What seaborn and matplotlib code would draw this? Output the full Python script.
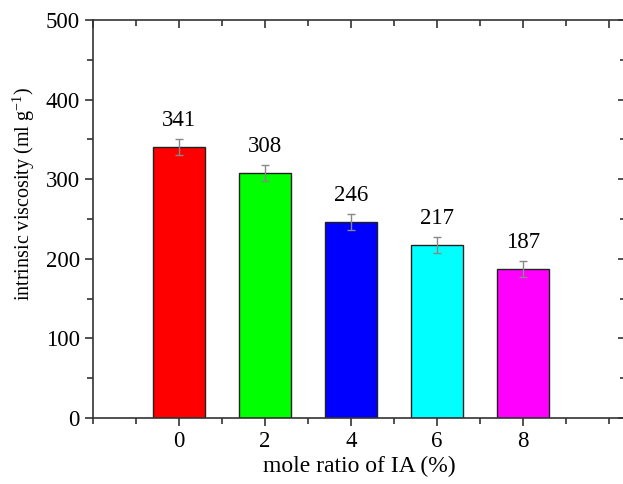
import numpy as np
import pandas as pd
import seaborn as sns
import matplotlib.pyplot as plt
from matplotlib.ticker import MultipleLocator

# data
mole_ratio = [0, 2, 4, 6, 8]
viscosity = [341, 308, 246, 217, 187]
errors = [10, 10, 10, 10, 10]
bar_colors = ['#ff0000', '#00ff00', '#0000ff', '#00ffff', '#ff00ff']

df = pd.DataFrame({'ratio': mole_ratio, 'visc': viscosity})

sns.set_style('ticks')
plt.rcParams['font.family'] = ['Liberation Serif', 'DejaVu Serif']
plt.rcParams['mathtext.fontset'] = 'custom'
plt.rcParams['mathtext.rm'] = 'Liberation Serif'
plt.rcParams['mathtext.it'] = 'Liberation Serif:italic'
plt.rcParams['text.color'] = 'black'
plt.rcParams['axes.labelcolor'] = 'black'
plt.rcParams['xtick.labelcolor'] = 'black'
plt.rcParams['ytick.labelcolor'] = 'black'

fig = plt.figure(figsize=(6.23, 4.84), dpi=100)
ax = fig.add_axes([93 / 623, 66 / 484, 533 / 623, 398 / 484])

sns.barplot(data=df, x='ratio', y='visc', hue='ratio', palette=bar_colors,
            native_scale=True, width=0.6, saturation=1, edgecolor='#222222',
            linewidth=1, legend=False, errorbar=None, ax=ax)
ax.errorbar(mole_ratio, viscosity, yerr=errors, fmt='none', ecolor='#888888',
            elinewidth=1, capsize=3, capthick=1)

for x, v, e in zip(mole_ratio, viscosity, errors):
    ax.text(x, v + e + 10, str(v), ha='center', va='bottom', fontsize=16.5)

ax.set_xlim(-2, 10.4)
ax.set_ylim(0, 500)
ax.xaxis.set_minor_locator(MultipleLocator(1))
ax.yaxis.set_major_locator(MultipleLocator(100))
ax.yaxis.set_minor_locator(MultipleLocator(50))
ax.set_xticks([0, 2, 4, 6, 8])
ax.set_xticklabels(['0', '2', '4', '6', '8'])

for s in ax.spines.values():
    s.set_color('#333333')
    s.set_linewidth(1.2)

ax.tick_params(which='both', direction='out', bottom=True, left=True,
               top=False, right=False, labelsize=16.5, color='#333333', width=1.2)
ax.tick_params(which='major', length=6)
ax.tick_params(which='minor', length=4)

# inward ticks on top and right spines
ax_top = ax.secondary_xaxis('top')
ax_top.xaxis.set_major_locator(MultipleLocator(2))
ax_top.xaxis.set_minor_locator(MultipleLocator(1))
ax_top.tick_params(which='both', direction='in', labeltop=False, color='#333333', width=1.2)
ax_top.tick_params(which='major', length=6)
ax_top.tick_params(which='minor', length=4)
ax_top.spines['top'].set_visible(False)
ax_right = ax.secondary_yaxis('right')
ax_right.yaxis.set_major_locator(MultipleLocator(100))
ax_right.yaxis.set_minor_locator(MultipleLocator(50))
ax_right.tick_params(which='both', direction='in', labelright=False, color='#333333', width=1.2)
ax_right.tick_params(which='major', length=6)
ax_right.tick_params(which='minor', length=4)
ax_right.spines['right'].set_visible(False)

ax.set_xlabel('mole ratio of IA (%)', fontsize=17, labelpad=3)
ax.set_ylabel('intrinsic viscosity (ml g$^{-1}$)', fontsize=14.5)
ax.yaxis.set_label_coords(-0.105, 0.563)

fig.savefig('out.png', dpi=100)
